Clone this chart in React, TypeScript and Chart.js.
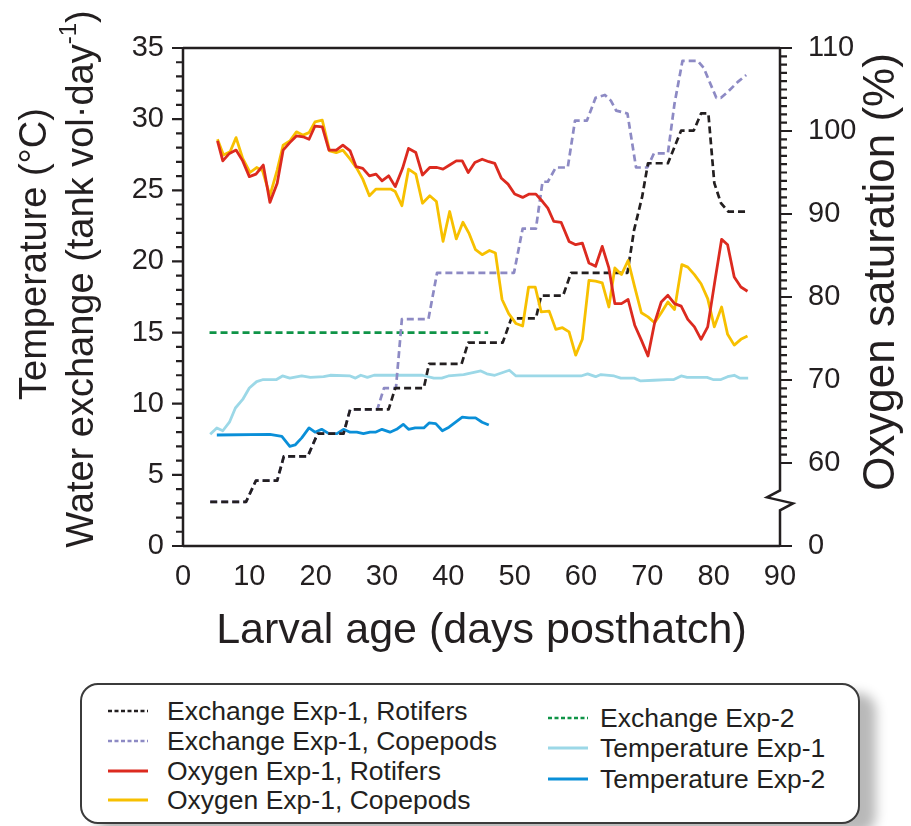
import React, { useEffect, useRef } from 'react';
import { Chart, registerables } from 'chart.js';

Chart.register(...registerables);

const FONT = "'Liberation Sans', Arial, Helvetica, sans-serif";
const INK = '#231f20';

// ---- Data (x = larval age, days posthatch) ----
const exRotX = [4.1, 9.5, 11, 14.2, 15.2, 18.8, 20.3, 24.2, 25.2, 31, 32, 36.3, 37.1, 42, 43, 48.2, 49.5, 53.2, 54, 57.3, 58.5, 67, 68, 69.2, 70.1, 73.1, 75.1, 77, 78.1, 79.2, 80.1, 81.1, 82.2, 85.2];
const exRotY = [3.1, 3.1, 4.6, 4.6, 6.3, 6.3, 7.9, 7.9, 9.6, 9.6, 11.1, 11.1, 12.8, 12.8, 14.3, 14.3, 16, 16, 17.6, 17.6, 19.2, 19.2, 22.2, 24.5, 26.9, 26.9, 29.2, 29.2, 30.4, 30.4, 25.5, 24.1, 23.5, 23.5];

const exCopX = [4.1, 9.5, 11, 14.2, 15.2, 18.8, 20.3, 24.2, 25.2, 29.3, 30.3, 32.1, 33, 37, 38.3, 49.9, 51.2, 53.2, 54.2, 55, 56.2, 58, 59.1, 60.9, 62.2, 63.6, 64.5, 65.3, 67, 68.3, 70, 71, 73.1, 74.1, 75.3, 77.6, 78.5, 80.4, 81.1, 82.1, 83.6, 84.9];
const exCopY = [3.1, 3.1, 4.6, 4.6, 6.3, 6.3, 7.9, 7.9, 9.6, 9.6, 11.1, 11.1, 15.95, 15.95, 19.2, 19.2, 22.3, 22.3, 25.6, 25.6, 26.6, 26.6, 29.9, 29.9, 31.5, 31.7, 31.3, 30.6, 30.4, 26.6, 26.6, 27.6, 27.6, 31.1, 34.1, 34.1, 33.6, 31.5, 31.5, 31.9, 32.6, 33.1];

const ex2X = [4, 46];
const ex2Y = [15, 15];

const temp1X = [4.1, 5.1, 6, 7, 7.9, 9, 10, 11.1, 12.1, 14.1, 15, 16.1, 17.9, 19.2, 21.2, 22.2, 25.2, 26, 26.8, 27.8, 28.8, 36.1, 37.8, 39, 40, 42.3, 44.9, 45.8, 47, 49.2, 50.2, 60, 61, 62.2, 63, 65, 66, 68, 69, 71, 73, 74, 75.1, 76, 79, 79.9, 81.1, 82.1, 83.1, 83.9, 85.2];
const temp1Y = [7.85, 8.3, 8.1, 8.7, 9.7, 10.3, 11.1, 11.55, 11.7, 11.7, 11.95, 11.8, 11.95, 11.85, 11.9, 12.0, 11.95, 11.8, 12.0, 11.85, 12.0, 12.0, 11.8, 11.8, 11.95, 12.05, 12.3, 12.1, 12.0, 12.35, 11.95, 11.95, 12.1, 11.9, 12.05, 11.95, 11.8, 11.8, 11.6, 11.65, 11.7, 11.7, 11.95, 11.85, 11.85, 11.7, 11.7, 11.9, 12.0, 11.8, 11.8];

const temp2X = [5.1, 13.1, 14.9, 16.1, 16.9, 17.9, 19, 19.9, 20.9, 22, 23.2, 24.2, 25.2, 26.2, 27.2, 28.2, 29, 30, 31.2, 32.2, 33.2, 34, 35, 36.3, 37.1, 38.1, 39.1, 40.1, 41.1, 42.1, 43.1, 44.1, 45.1, 46.1];
const temp2Y = [7.8, 7.85, 7.7, 7.0, 7.1, 7.6, 8.3, 8.0, 8.2, 7.9, 7.9, 8.2, 8.0, 8.0, 7.9, 8.0, 8.0, 8.2, 8.0, 8.2, 8.55, 8.2, 8.3, 8.3, 8.65, 8.6, 8.1, 8.35, 8.7, 9.05, 9.0, 9.0, 8.7, 8.5];

const oxRotX = [5.2, 6, 7, 8, 9, 10, 11, 12.1, 13.1, 14.2, 15.1, 16.1, 17.1, 18.1, 19, 19.9, 21, 22, 23.1, 24.1, 25.2, 26.1, 27.1, 28.1, 29.1, 30, 31, 32, 33.1, 34, 35.1, 36.1, 37.2, 38.3, 39.2, 40.2, 41.2, 42.1, 43, 44, 45.1, 46.1, 47, 48, 49, 50, 51.2, 52.2, 53.2, 54.2, 55, 55.9, 57, 58.2, 59.2, 60.2, 61.2, 62.2, 63.2, 64.2, 65.1, 66.1, 67.1, 68.1, 69.1, 70.1, 71.1, 72.1, 73.1, 74.1, 75.1, 76.1, 77.1, 78.1, 79.1, 80.2, 81.2, 82.1, 83.1, 84.1, 85.1];
const oxRotY = [98.8, 96.4, 97.3, 97.7, 96.4, 94.5, 94.8, 95.9, 91.4, 93.7, 97.7, 98.6, 99.4, 99.3, 99.0, 100.6, 100.5, 97.7, 97.7, 98.3, 97.6, 95.7, 95.5, 94.6, 94.8, 94.0, 94.6, 93.3, 95.5, 97.9, 97.4, 94.7, 95.6, 95.6, 95.4, 95.9, 96.4, 96.4, 95.0, 96.2, 96.6, 96.3, 96.1, 94.3, 93.6, 92.4, 92.0, 92.4, 92.4, 91.5, 90.7, 89.1, 89.0, 86.7, 86.3, 86.5, 84.1, 83.7, 86.1, 83.5, 79.2, 79.2, 79.7, 76.6, 74.8, 72.9, 76.9, 79.4, 80.2, 79.2, 78.9, 77.3, 76.4, 74.9, 76.4, 82.0, 86.95, 86.3, 82.4, 81.2, 80.7];

const oxCopX = [5.2, 6.1, 7.1, 8, 9, 10.1, 11.1, 12, 13.1, 14.2, 15.1, 16.1, 17.1, 18.1, 19, 19.9, 21, 22.1, 23.1, 24.1, 25.2, 26.2, 27.1, 28.1, 29.1, 31.3, 32, 33, 34, 35.1, 36.1, 37.2, 38.2, 39.2, 40.2, 41.2, 42.2, 43.1, 44.1, 45.1, 46.2, 47.1, 48.1, 49.1, 50.2, 51.2, 52.1, 53.1, 54, 55.2, 56.2, 57.2, 58.2, 59.2, 60.2, 61.2, 62.2, 63.2, 64.2, 65.1, 66.1, 67.1, 68.1, 69.1, 70.1, 71.1, 72.1, 73.1, 74.1, 75.2, 76.1, 77.1, 78.1, 79.1, 80.1, 81.2, 82.1, 83.1, 84.1, 85.1];
const oxCopY = [99.0, 97.1, 97.5, 99.2, 96.7, 95.0, 95.6, 95.2, 92.2, 95.3, 98.3, 98.8, 99.9, 99.5, 99.8, 101.1, 101.3, 97.6, 97.4, 97.7, 96.6, 95.5, 94.2, 92.2, 93.0, 93.0, 92.7, 91.0, 95.4, 94.8, 91.3, 92.2, 91.5, 86.7, 90.3, 87.0, 89.0, 87.7, 85.7, 85.1, 85.6, 85.3, 79.7, 78.0, 76.8, 76.5, 81.2, 81.2, 78.2, 78.3, 76.1, 76.3, 75.8, 73.0, 74.9, 82.0, 81.9, 81.7, 78.8, 83.5, 82.7, 84.4, 81.2, 78.1, 77.6, 76.9, 78.1, 79.4, 78.5, 83.9, 83.6, 82.7, 81.6, 79.8, 76.4, 78.8, 75.5, 74.2, 74.9, 75.3];

const xTicks = [0, 10, 20, 30, 40, 50, 60, 70, 80, 90];
const leftTicks = [0, 5, 10, 15, 20, 25, 30, 35];
const rightTicks = [50, 60, 70, 80, 90, 100, 110];
const rightTickLabels = ['0', '60', '70', '80', '90', '100', '110'];

const pts = (xs: number[], ys: number[]) => xs.map((x, i) => ({ x, y: ys[i] }));

type Series = {
  label: string; xs: number[]; ys: number[]; color: string; axis: string;
  dashed: boolean; order: number; col: number; row: number;
};

const SERIES: Series[] = [
  { label: 'Exchange Exp-1, Rotifers', xs: exRotX, ys: exRotY, color: '#231f20', axis: 'y', dashed: true, order: 3, col: 0, row: 0 },
  { label: 'Exchange Exp-1, Copepods', xs: exCopX, ys: exCopY, color: '#8d8ac4', axis: 'y', dashed: true, order: 4, col: 0, row: 1 },
  { label: 'Oxygen Exp-1, Rotifers', xs: oxRotX, ys: oxRotY, color: '#dc2a1f', axis: 'y2', dashed: false, order: 1, col: 0, row: 2 },
  { label: 'Oxygen Exp-1, Copepods', xs: oxCopX, ys: oxCopY, color: '#f7c000', axis: 'y2', dashed: false, order: 2, col: 0, row: 3 },
  { label: 'Exchange Exp-2', xs: ex2X, ys: ex2Y, color: '#0f9447', axis: 'y', dashed: true, order: 5, col: 1, row: 0 },
  { label: 'Temperature Exp-1', xs: temp1X, ys: temp1Y, color: '#9cd8e7', axis: 'y', dashed: false, order: 7, col: 1, row: 1 },
  { label: 'Temperature Exp-2', xs: temp2X, ys: temp2Y, color: '#0a8fd8', axis: 'y', dashed: false, order: 6, col: 1, row: 2 },
];

const axisDecor = {
  id: 'axisDecor',
  afterDraw(chart: any) {
    const { ctx, chartArea: a, scales } = chart;
    const y = scales.y;
    const y2 = scales.y2;
    ctx.save();
    ctx.strokeStyle = INK;
    ctx.lineWidth = 2.5;
    ctx.lineCap = 'butt';
    ctx.beginPath();
    ctx.moveTo(a.left, a.top);
    ctx.lineTo(a.left, a.bottom);
    ctx.moveTo(a.left, a.bottom);
    ctx.lineTo(a.right, a.bottom);
    ctx.moveTo(a.left, a.top);
    ctx.lineTo(a.right, a.top);
    // right axis with break
    const bTop = y2.getPixelForValue(56.7);
    const bBot = y2.getPixelForValue(54.3);
    const mid = (bTop + bBot) / 2;
    ctx.moveTo(a.right, a.top);
    ctx.lineTo(a.right, bTop);
    ctx.lineTo(a.right - 13, mid - 3);
    ctx.lineTo(a.right + 13, mid + 3);
    ctx.lineTo(a.right, bBot);
    ctx.lineTo(a.right, a.bottom);
    ctx.stroke();

    ctx.lineWidth = 2.2;
    ctx.beginPath();
    for (let v = 0; v <= 35; v++) {
      const len = v % 5 === 0 ? 11 : 7;
      const py = y.getPixelForValue(v);
      ctx.moveTo(a.left - len, py);
      ctx.lineTo(a.left, py);
    }
    for (let v = 60; v <= 110; v++) {
      const len = v % 10 === 0 ? 12 : 7;
      const py = y2.getPixelForValue(v);
      ctx.moveTo(a.right, py);
      ctx.lineTo(a.right + len, py);
    }
    const p0 = y2.getPixelForValue(50);
    ctx.moveTo(a.right, p0);
    ctx.lineTo(a.right + 12, p0);
    ctx.stroke();

    // axis titles (rotated, read bottom to top)
    ctx.fillStyle = INK;
    ctx.textBaseline = 'middle';
    const big = 38;
    ctx.save();
    ctx.translate(36, 254);
    ctx.rotate(-Math.PI / 2);
    ctx.font = `${big}px ${FONT}`;
    ctx.textAlign = 'center';
    ctx.fillText('Temperature (°C)', 0, 0);
    ctx.restore();

    ctx.save();
    ctx.translate(83, 279);
    ctx.rotate(-Math.PI / 2);
    ctx.textAlign = 'left';
    const main = 'Water exchange (tank vol·day';
    const sup = '-1';
    const end = ')';
    const supSize = Math.round(big * 0.62);
    ctx.font = `${big}px ${FONT}`;
    const w1 = ctx.measureText(main).width;
    const w3 = ctx.measureText(end).width;
    ctx.font = `${supSize}px ${FONT}`;
    const w2 = ctx.measureText(sup).width;
    let sx = -(w1 + w2 + w3) / 2;
    ctx.font = `${big}px ${FONT}`;
    ctx.fillText(main, sx, 0);
    sx += w1;
    ctx.font = `${supSize}px ${FONT}`;
    ctx.fillText(sup, sx, -big * 0.36);
    sx += w2;
    ctx.font = `${big}px ${FONT}`;
    ctx.fillText(end, sx, 0);
    ctx.restore();

    ctx.save();
    ctx.translate(882, 272);
    ctx.rotate(-Math.PI / 2);
    ctx.font = `44px ${FONT}`;
    ctx.textAlign = 'center';
    ctx.fillText('Oxygen saturation (%)', 0, 0);
    ctx.restore();

    ctx.restore();
  },
};

function LegendSample({ color, dashed }: { color: string; dashed: boolean }) {
  return (
    <svg width={40} height={8} style={{ display: 'block' }}>
      <line
        x1={0} y1={4} x2={40} y2={4}
        stroke={color}
        strokeWidth={dashed ? 2.5 : 3}
        strokeDasharray={dashed ? '4 2.5' : undefined}
      />
    </svg>
  );
}

export default function App() {
  const ref = useRef<HTMLCanvasElement | null>(null);

  useEffect(() => {
    if (!ref.current) return;
    const datasets = SERIES.map((s) => ({
      label: s.label,
      data: pts(s.xs, s.ys),
      borderColor: s.color,
      backgroundColor: s.color,
      borderWidth: s.dashed ? 2.7 : 2.8,
      borderDash: s.dashed ? [7, 4] : [],
      borderCapStyle: 'butt' as const,
      borderJoinStyle: 'round' as const,
      pointRadius: 0,
      tension: 0,
      fill: false,
      yAxisID: s.axis,
      order: s.order,
    }));

    const tickFont = { family: FONT, size: 29 };
    const chart = new Chart(ref.current, {
      type: 'line',
      data: { datasets },
      plugins: [axisDecor],
      options: {
        animation: false,
        responsive: false,
        devicePixelRatio: 1,
        layout: { padding: { top: 48, left: 0, right: 0, bottom: 0 } },
        plugins: { legend: { display: false }, tooltip: { enabled: false } },
        scales: {
          x: {
            type: 'linear',
            min: 0,
            max: 90,
            position: 'bottom',
            afterBuildTicks: (s: any) => { s.ticks = xTicks.map((v) => ({ value: v })); },
            ticks: { font: tickFont, color: INK, padding: 14, maxRotation: 0, autoSkip: false },
            grid: { display: false, drawTicks: false, tickLength: 0 },
            border: { display: false },
            title: {
              display: true,
              text: 'Larval age (days posthatch)',
              font: { family: FONT, size: 43 },
              color: INK,
              padding: { top: 0, bottom: 3 },
            },
            afterFit: (s: any) => { s.height = 114; },
          },
          y: {
            type: 'linear',
            position: 'left',
            min: 0,
            max: 35,
            afterBuildTicks: (s: any) => { s.ticks = leftTicks.map((v) => ({ value: v })); },
            ticks: { font: tickFont, color: INK, padding: 19, autoSkip: false },
            grid: { display: false, drawTicks: false, tickLength: 0 },
            border: { display: false },
            afterFit: (s: any) => { s.width = 183; },
          },
          y2: {
            type: 'linear',
            position: 'right',
            min: 50,
            max: 110,
            afterBuildTicks: (s: any) => { s.ticks = rightTicks.map((v) => ({ value: v })); },
            ticks: {
              font: tickFont,
              color: INK,
              padding: 28,
              autoSkip: false,
              callback: (v: any) => rightTickLabels[rightTicks.indexOf(Number(v))] ?? '',
            },
            grid: { display: false, drawTicks: false, tickLength: 0 },
            border: { display: false },
            afterFit: (s: any) => { s.width = 131; },
          },
        },
      } as any,
    });
    return () => chart.destroy();
  }, []);

  const rowY = [[711, 741, 771, 800], [718, 748, 779]];
  const colX = [[108, 167], [548, 600]];

  return (
    <div style={{ position: 'fixed', left: 0, top: 0, width: 911, height: 826, background: '#fff', overflow: 'hidden' }}>
      <canvas ref={ref} width={911} height={660} style={{ position: 'absolute', left: 0, top: 0, width: 911, height: 660 }} />
      <div
        style={{
          position: 'absolute', left: 80, top: 683, width: 776, height: 137,
          border: '2px solid #3b3b3b', borderRadius: 18, background: '#fff',
          boxShadow: '16px 10px 12px rgba(0,0,0,0.28)',
        }}
      />
      {SERIES.map((s) => {
        const cy = rowY[s.col][s.row];
        return (
          <div key={s.label} style={{ position: 'absolute', left: colX[s.col][0], top: cy - 16, height: 32, display: 'flex', alignItems: 'center' }}>
            <LegendSample color={s.color} dashed={s.dashed} />
            <span style={{ marginLeft: colX[s.col][1] - colX[s.col][0] - 40, fontFamily: FONT, fontSize: 26.5, color: INK, whiteSpace: 'nowrap', lineHeight: '32px' }}>
              {s.label}
            </span>
          </div>
        );
      })}
    </div>
  );
}
